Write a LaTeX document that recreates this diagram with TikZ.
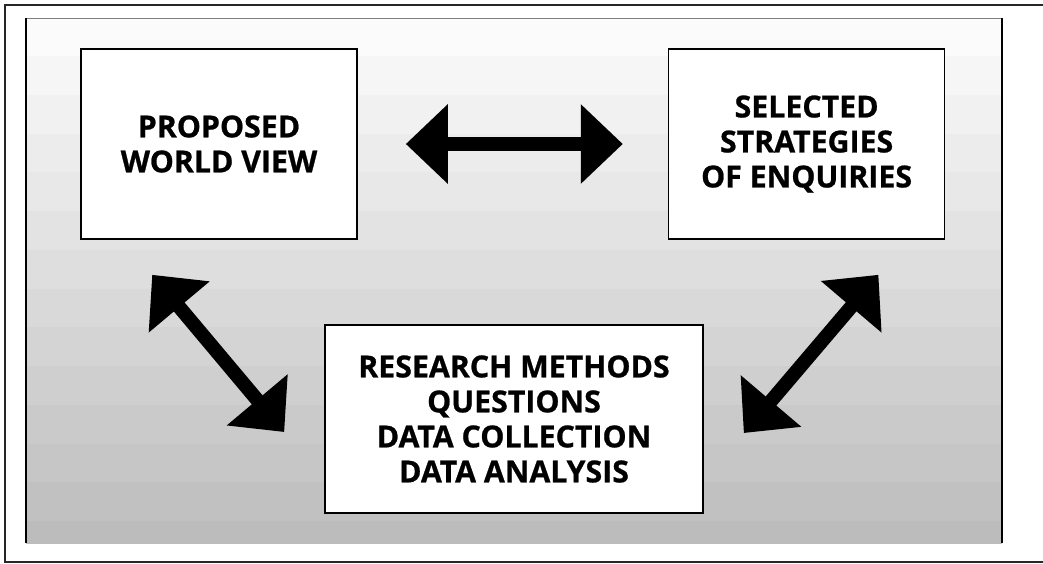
\documentclass[tikz,border=0pt]{standalone}
\usepackage{fontspec}
\newfontfamily\boxfont{Open Sans}[BoldFeatures={FakeBold=0.8}]
\usepackage{tikz}
\usetikzlibrary{arrows.meta}
\usetikzlibrary{positioning}

\tikzset{
    box/.style={draw, line width=1.6pt, fill=white, align=center, inner sep=0pt,
        font=\boxfont\bfseries\fontsize{30.3}{35}\selectfont},
    bigarrow/.style={line width=14pt,
        {Triangle[length=42pt,width=77pt]}-{Triangle[length=42pt,width=77pt]}}
}

\begin{document}
\begin{tikzpicture}[x=1pt,y=-1pt]
    \useasboundingbox (0,0) rectangle (1043,563);

    % grey bands behind the boxes
    \begin{scope}
    \clip (26,18) rectangle (1002,543);
    \foreach \i in {0,...,13}{
        \pgfmathsetmacro\shade{1.6+1.9*\i}
        \fill[black!\shade] (26,{17.25+38.75*\i}) rectangle (1002,{56+38.75*\i});
    }
    \end{scope}
    \draw[line width=1.5pt, black!85] (1043,5) -- (5,5) -- (5,562) -- (1043,562);
    \draw[line width=1pt, gray] (26,18) -- (1002,18);
    \draw[line width=1.5pt] (26,18) -- (26,543);
    \draw[line width=1.5pt] (1002,18) -- (1002,543);

    \node[box, minimum width=276pt, minimum height=190pt] (view) at (219,144) {PROPOSED\\WORLD VIEW};
    \node[box, minimum width=276pt, minimum height=190pt, right=310pt of view] (strategy) {SELECTED\\STRATEGIES\\OF ENQUIRIES};
    \node[box, minimum width=378pt, minimum height=188pt] (methods) at (514,419) {RESEARCH METHODS\\QUESTIONS\\DATA COLLECTION\\DATA ANALYSIS};

    \coordinate (view-tip) at ([shift={(72,35)}]view.south west);
    \coordinate (meth-left) at ([shift={(-40,13)}]methods.west);
    \coordinate (strat-tip) at ([shift={(-67,35)}]strategy.south east);
    \coordinate (meth-right) at ([shift={(40,14)}]methods.east);

    \draw[bigarrow, shorten <=48pt, shorten >=45pt] (view.east) -- (strategy.west);
    \draw[bigarrow] (view-tip) -- (meth-left);
    \draw[bigarrow] (strat-tip) -- (meth-right);
\end{tikzpicture}
\end{document}
